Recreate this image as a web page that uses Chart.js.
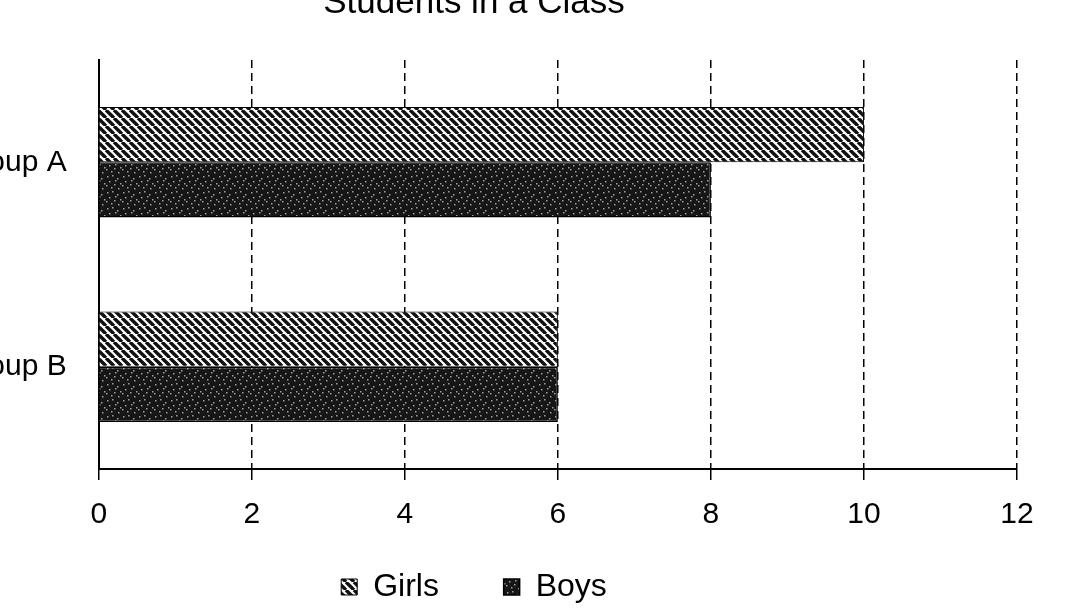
<!DOCTYPE html>
<html>
<head>
<meta charset="utf-8">
<title>Students in a Class</title>
<script src="https://cdn.jsdelivr.net/npm/chart.js@4"></script>
<style>
  html, body { margin: 0; padding: 0; background: #fff; overflow: hidden; }
  body { width: 1073px; height: 608px; position: relative; }
  #wrap { position: absolute; left: -118px; top: -18px; width: 1155px; height: 631px; }
</style>
</head>
<body>
<div id="wrap"><canvas id="students"></canvas></div>
<script>
const groups = ["Group A", "Group B"];
const girls = [10, 6];
const boys = [8, 6];
const xTicks = [0, 2, 4, 6, 8, 10, 12];

const FONT = "'Liberation Sans', Arial, sans-serif";

// diagonal hatch like the scanned print
function hatchPattern() {
  const s = 8;
  const c = document.createElement("canvas");
  c.width = s;
  c.height = s;
  const ctx = c.getContext("2d");
  ctx.fillStyle = "#fff";
  ctx.fillRect(0, 0, s, s);
  ctx.strokeStyle = "#111";
  ctx.lineWidth = 3.4;
  for (let x0 = -s; x0 <= s; x0 += s) {
    ctx.beginPath();
    ctx.moveTo(x0, 0);
    ctx.lineTo(x0 + s, s);
    ctx.stroke();
  }
  return ctx.createPattern(c, "repeat");
}

// dark fill with a few light specks
function stipplePattern() {
  const s = 16;
  const c = document.createElement("canvas");
  c.width = s;
  c.height = s;
  const ctx = c.getContext("2d");
  ctx.fillStyle = "#161616";
  ctx.fillRect(0, 0, s, s);
  ctx.fillStyle = "#a0a0a0";
  const specks = [[1, 2], [6, 1], [11, 4], [14, 9], [3, 7], [8, 10], [12, 14], [5, 13], [0, 11], [9, 6]];
  specks.forEach(([x, y]) => ctx.fillRect(x, y, 1.5, 1.5));
  return ctx.createPattern(c, "repeat");
}

new Chart(document.getElementById("students"), {
  type: "bar",
  data: {
    labels: groups,
    datasets: [
      {
        label: "Girls",
        data: girls,
        backgroundColor: hatchPattern(),
        borderColor: "#000",
        borderWidth: 1,
        categoryPercentage: 0.54,
        barPercentage: 1.0,
      },
      {
        label: "Boys",
        data: boys,
        backgroundColor: stipplePattern(),
        borderColor: "#000",
        borderWidth: 1.5,
        categoryPercentage: 0.54,
        barPercentage: 1.0,
      },
    ],
  },
  options: {
    indexAxis: "y",
    responsive: true,
    maintainAspectRatio: false,
    animation: false,
    layout: { padding: { left: 49, right: 20, top: 0, bottom: 0 } },
    scales: {
      x: {
        min: 0,
        max: 12,
        afterBuildTicks: (scale) => {
          scale.ticks = xTicks.map((v) => ({ value: v }));
        },
        grid: {
          color: "#000",
          lineWidth: 1.5,
          // long tick slot for label spacing, only the first 10px is drawn
          tickLength: 28,
          tickColor: "#000",
          tickBorderDash: [10, 40],
        },
        border: { display: true, color: "#000", width: 2, dash: [8, 5] },
        ticks: {
          color: "#000",
          padding: 0,
          font: { family: FONT, size: 30 },
        },
      },
      y: {
        grid: { display: false },
        border: { display: true, color: "#000", width: 2 },
        ticks: {
          color: "#000",
          padding: 24,
          font: { family: FONT, size: 30 },
        },
      },
    },
    plugins: {
      title: {
        display: true,
        text: "Students in a Class",
        color: "#000",
        font: { family: FONT, size: 35, weight: "normal" },
        padding: { top: 0, bottom: 36 },
      },
      legend: {
        position: "bottom",
        labels: {
          color: "#000",
          boxWidth: 16,
          boxHeight: 16,
          padding: 38,
          font: { family: FONT, size: 32 },
          generateLabels: (chart) => {
            const items = Chart.defaults.plugins.legend.labels.generateLabels(chart);
            items[0].text += "   ";
            return items;
          },
        },
      },
      tooltip: { enabled: false },
    },
  },
});
</script>
</body>
</html>
